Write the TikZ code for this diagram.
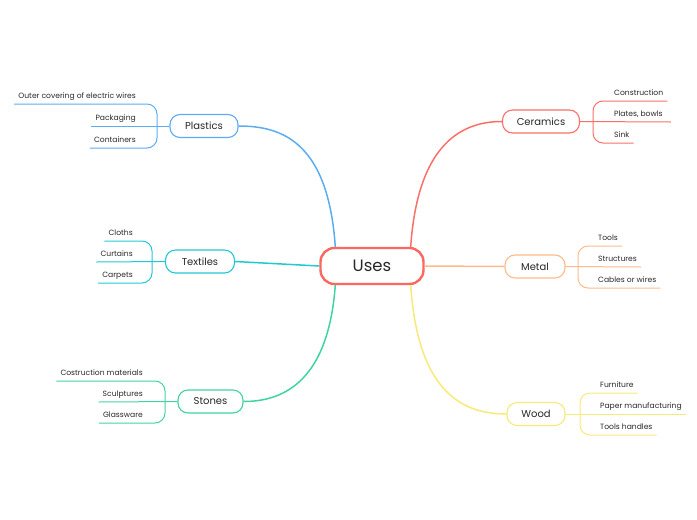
\documentclass[tikz,border=0pt]{standalone}
\usepackage{fontspec}
\setmainfont{Poppins}
\usetikzlibrary{positioning}
\definecolor{usered}{RGB}{252,104,96}
\definecolor{plastblue}{RGB}{92,172,242}
\definecolor{ceramred}{RGB}{250,112,104}
\definecolor{textcyan}{RGB}{34,200,212}
\definecolor{metalorange}{RGB}{255,186,140}
\definecolor{stonegreen}{RGB}{64,212,162}
\definecolor{woodyellow}{RGB}{248,234,120}
\definecolor{inkgray}{RGB}{40,40,40}

\begin{document}
\begin{tikzpicture}[x=1pt,y=-1pt,topic/.style={draw,fill=white,line width=1.1pt,rounded corners=10pt,minimum height=23pt,inner sep=0pt,text=inkgray,font=\fontsize{10}{12}\selectfont},leaf/.style={inner xsep=4pt,inner ysep=2.5pt,text height=5.5pt,text depth=2.5pt,text=inkgray,font=\fontsize{7.6}{9}\selectfont},branch/.style={line width=1.5pt},twig/.style={line width=1pt,rounded corners=10pt}]
\useasboundingbox (0,0) rectangle (697,520);

\node[topic,draw=usered,line width=2.4pt,minimum width=103pt,minimum height=36pt,rounded corners=14pt,font=\fontsize{16.5}{19}\selectfont] (uses) at (372,266) {Uses};

\node[topic,draw=plastblue,minimum width=68pt] (plastics) at (204,126) {Plastics};
\node[topic,draw=ceramred,minimum width=77pt] (ceramics) at (541,121.5) {Ceramics};
\node[topic,draw=textcyan,minimum width=69pt] (textiles) at (200,261.5) {Textiles};
\node[topic,draw=metalorange,minimum width=60pt] (metal) at (535,266.5) {Metal};
\node[topic,draw=stonegreen,minimum width=65pt] (stones) at (210.5,401.5) {Stones};
\node[topic,draw=woodyellow,minimum width=58pt] (wood) at (536,414) {Wood};

\draw[branch,plastblue]([xshift=16pt]uses.north west) .. controls (328,140) and (280,126) .. (plastics.east);
\draw[branch,ceramred]([xshift=-14pt]uses.north east) .. controls (418,140) and (465,121.5) .. (ceramics.west);
\draw[branch,textcyan](uses.west)--(textiles.east);
\draw[branch,metalorange](uses.east)--(metal.west);
\draw[branch,stonegreen]([xshift=16pt]uses.south west) .. controls (328,385) and (280,401.5) .. (stones.east);
\draw[branch,woodyellow]([xshift=-14pt]uses.south east) .. controls (418,395) and (465,414) .. (wood.west);

% plastics
\node[leaf,anchor=south east] (p1) at (140,104) {Outer covering of electric wires};
\node[leaf,anchor=south east] (p2) at (140,126) {Packaging};
\node[leaf,anchor=south east] (p3) at (140,148) {Containers};
\coordinate (pb) at (157,126);
\draw[twig,plastblue](p1.south west) -| (pb) |- (p3.south west);
\draw[twig,plastblue](p2.south west)--(plastics.west);

% ceramics
\node[leaf,anchor=south west] (c1) at (610,101) {Construction};
\node[leaf,anchor=south west] (c2) at (610,122) {Plates, bowls};
\node[leaf,anchor=south west] (c3) at (610,143) {Sink};
\coordinate (cb) at (593,122);
\draw[twig,ceramred](c1.south east) -| (cb) |- (c3.south east);
\draw[twig,ceramred](ceramics.east)--([xshift=4pt]c2.south east);

% textiles
\node[leaf,anchor=south east] (t1) at (137,241) {Cloths};
\node[leaf,anchor=south east] (t2) at (137,262) {Curtains};
\node[leaf,anchor=south east] (t3) at (137,283) {Carpets};
\coordinate (tb) at (152,262);
\draw[twig,textcyan](t1.south west) -| (tb) |- (t3.south west);
\draw[twig,textcyan](t2.south west)--(textiles.west);

% metal
\node[leaf,anchor=south west] (m1) at (594,246) {Tools};
\node[leaf,anchor=south west] (m2) at (594,267) {Structures};
\node[leaf,anchor=south west] (m3) at (594,288) {Cables or wires};
\coordinate (mb) at (578,267);
\draw[twig,metalorange](m1.south east) -| (mb) |- (m3.south east);
\draw[twig,metalorange](metal.east)--(m2.south east);

% stones
\node[leaf,anchor=south east] (s1) at (147,381) {Costruction materials};
\node[leaf,anchor=south east] (s2) at (147,402) {Sculptures};
\node[leaf,anchor=south east] (s3) at (147,423) {Glassware};
\coordinate (sb) at (165,402);
\draw[twig,stonegreen](s1.south west) -| (sb) |- (s3.south west);
\draw[twig,stonegreen](s2.south west)--(stones.west);

% wood
\node[leaf,anchor=south west] (w1) at (596,393) {Furniture};
\node[leaf,anchor=south west] (w2) at (596,414) {Paper manufacturing};
\node[leaf,anchor=south west] (w3) at (596,435) {Tools handles};
\coordinate (wb) at (580,414);
\draw[twig,woodyellow](w1.south east) -| (wb) |- (w3.south east);
\draw[twig,woodyellow](wood.east)--(w2.south east);
\end{tikzpicture}
\end{document}
